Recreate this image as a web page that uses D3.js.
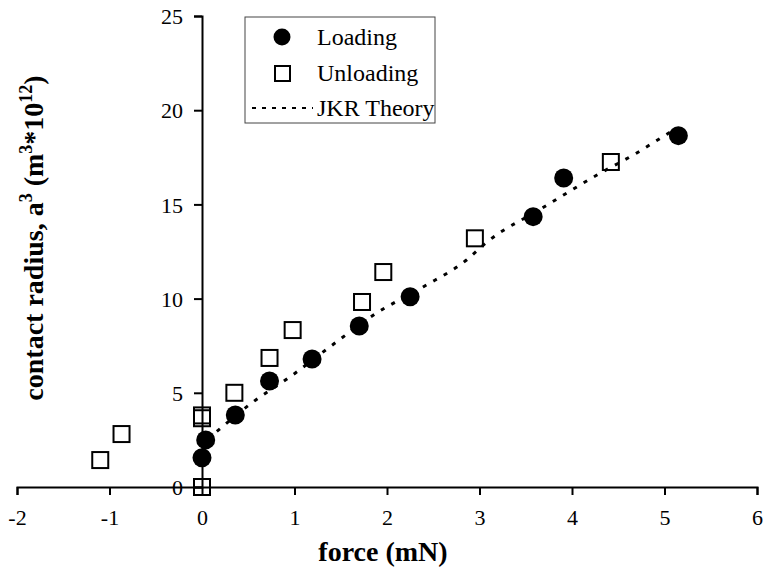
<!DOCTYPE html>
<html>
<head>
<meta charset="utf-8">
<script src="https://cdn.jsdelivr.net/npm/d3@7"></script>
<style>
  body { margin: 0; background: #fff; }
  svg { display: block; font-family: "Liberation Serif", "Times New Roman", serif; }
</style>
</head>
<body>
<div id="chart"></div>
<script>
// Data
const loadingForce = [0.0, 0.04, 0.36, 0.73, 1.19, 1.70, 2.25, 3.58, 3.91, 5.15];
const loadingRadius = [1.55, 2.5, 3.82, 5.63, 6.79, 8.55, 10.1, 14.35, 16.4, 18.65];

const unloadingForce = [-1.10, -0.87, 0.0, 0.0, 0.0, 0.35, 0.73, 0.98, 1.73, 1.96, 2.95, 4.42];
const unloadingRadius = [1.43, 2.81, 0.0, 3.65, 3.8, 5.0, 6.85, 8.33, 9.82, 11.41, 13.2, 17.25];

const jkrForce = [0.06, 0.14, 0.55, 0.95, 1.38, 1.89, 2.39, 2.86, 3.08, 3.68, 4.27, 4.70, 5.01, 5.10];
const jkrRadius = [2.55, 2.87, 4.51, 5.84, 7.43, 9.24, 10.62, 12.05, 13.0, 14.81, 16.56, 17.73, 18.68, 18.95];

const xTicks = [-2, -1, 0, 1, 2, 3, 4, 5, 6];
const yTicks = [0, 5, 10, 15, 20, 25];

const loading = loadingForce.map((f, i) => ({f: f, r: loadingRadius[i]}));
const unloading = unloadingForce.map((f, i) => ({f: f, r: unloadingRadius[i]}));
const jkr = jkrForce.map((f, i) => ({f: f, r: jkrRadius[i]}));

// Dimensions
const W = 765, H = 569;
const margin = {top: 16, right: 8, bottom: 82, left: 17};
const width = W - margin.left - margin.right;
const height = H - margin.top - margin.bottom;

const svg = d3.select("#chart").append("svg")
    .attr("width", W)
    .attr("height", H);

const g = svg.append("g")
    .attr("transform", `translate(${margin.left},${margin.top})`);

// Scales
const x = d3.scaleLinear().domain([-2, 6]).range([0, width]);
const y = d3.scaleLinear().domain([0, 25]).range([height, 0]);

// Axes - they cross at zero; plain hyphen for negatives like the original
const fmt = d => String(d);

const xAxis = g.append("g")
    .attr("transform", `translate(0,${y(0)})`)
    .call(d3.axisBottom(x).tickValues(xTicks).tickSize(8).tickPadding(14).tickFormat(fmt));

const yAxis = g.append("g")
    .attr("transform", `translate(${x(0)},0)`)
    .call(d3.axisLeft(y).tickValues(yTicks).tickSize(8).tickPadding(11).tickFormat(fmt));

[xAxis, yAxis].forEach(a => {
    a.select(".domain").attr("stroke", "#000").attr("stroke-width", 2);
    a.selectAll(".tick line").attr("stroke", "#000").attr("stroke-width", 2);
    a.selectAll(".tick text")
        .attr("fill", "#000")
        .style("font-family", "Liberation Serif")
        .style("font-size", "22px");
});
yAxis.selectAll(".tick text").attr("dy", "0.35em");

// JKR theory line
const line = d3.line()
    .x(d => x(d.f))
    .y(d => y(d.r))
    .curve(d3.curveMonotoneX);

g.append("path")
    .datum(jkr)
    .attr("fill", "none")
    .attr("stroke", "#000")
    .attr("stroke-width", 3)
    .attr("stroke-dasharray", "4,8")
    .attr("d", line);

// Unloading squares
const sq = 16;
g.selectAll(".unload")
    .data(unloading)
    .enter().append("rect")
    .attr("class", "unload")
    .attr("x", d => x(d.f) - sq / 2)
    .attr("y", d => y(d.r) - sq / 2)
    .attr("width", sq)
    .attr("height", sq)
    .attr("fill", "none")
    .attr("stroke", "#000")
    .attr("stroke-width", 2);

// Loading circles
g.selectAll(".load")
    .data(loading)
    .enter().append("circle")
    .attr("class", "load")
    .attr("cx", d => x(d.f))
    .attr("cy", d => y(d.r))
    .attr("r", 9.5)
    .attr("fill", "#000");

// Axis titles
svg.append("text")
    .attr("x", 383)
    .attr("y", 561)
    .attr("text-anchor", "middle")
    .style("font-size", "28px")
    .style("font-weight", "bold")
    .text("force (mN)");

const yt = svg.append("text")
    .attr("transform", "translate(43,238) rotate(-90)")
    .attr("text-anchor", "middle")
    .style("font-size", "28px")
    .style("font-weight", "bold");
yt.append("tspan").text("contact radius, a");
yt.append("tspan").attr("dy", -11).style("font-size", "18px").text("3");
yt.append("tspan").attr("dy", 11).text(" (m");
yt.append("tspan").attr("dy", -11).style("font-size", "18px").text("3");
yt.append("tspan").attr("dy", 11).text("*10");
yt.append("tspan").attr("dy", -11).style("font-size", "18px").text("12");
yt.append("tspan").attr("dy", 11).text(")");

// Legend
const leg = svg.append("g");
leg.append("rect")
    .attr("x", 245).attr("y", 17)
    .attr("width", 190).attr("height", 106)
    .attr("fill", "#fff")
    .attr("stroke", "#444")
    .attr("stroke-width", 1);

leg.append("circle").attr("cx", 282).attr("cy", 37).attr("r", 8.5).attr("fill", "#000");
leg.append("rect").attr("x", 275).attr("y", 66).attr("width", 15).attr("height", 15)
    .attr("fill", "none").attr("stroke", "#000").attr("stroke-width", 2);
leg.append("line").attr("x1", 252).attr("x2", 313).attr("y1", 108).attr("y2", 108)
    .attr("stroke", "#000").attr("stroke-width", 2).attr("stroke-dasharray", "4,6");

const legLabels = ["Loading", "Unloading", "JKR Theory"];
leg.selectAll(".ltxt")
    .data(legLabels)
    .enter().append("text")
    .attr("class", "ltxt")
    .attr("x", 317)
    .attr("y", (d, i) => 45 + i * 35.5)
    .style("font-size", "24px")
    .text(d => d);
</script>
</body>
</html>
